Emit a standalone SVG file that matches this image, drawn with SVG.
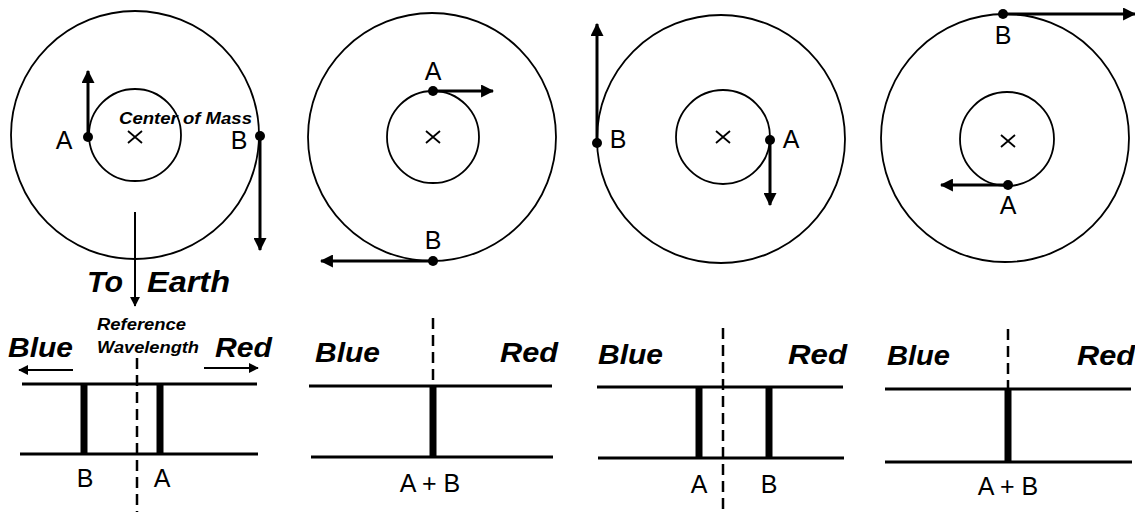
<svg xmlns="http://www.w3.org/2000/svg" width="1135" height="512" viewBox="0 0 1135 512">
<defs>
<marker id="ah" viewBox="0 0 12 12" markerUnits="userSpaceOnUse" markerWidth="13" markerHeight="13" refX="11" refY="6" orient="auto"><path d="M0,0 L12,6 L0,12 z" fill="#000"/></marker>
<marker id="ahs" viewBox="0 0 12 12" markerUnits="userSpaceOnUse" markerWidth="10" markerHeight="10" refX="11" refY="6" orient="auto"><path d="M0,0 L12,6 L0,12 z" fill="#000"/></marker>
<path id="xm" d="M-7,-6 L7,6 M-7,6 L7,-6" stroke="#000" stroke-width="1.8" fill="none"/>
<style>
.orb{fill:none;stroke:#000;stroke-width:1.8}
.vel{stroke:#000;stroke-width:3;fill:none;marker-end:url(#ah)}
.dot{fill:#000}
.lbl{font-family:"Liberation Sans","DejaVu Sans",sans-serif;font-size:25px;fill:#000;text-anchor:middle}
.big{font-family:"Liberation Sans",sans-serif;font-weight:bold;font-style:italic;font-size:29px;fill:#000}
.ital{font-family:"Liberation Sans",sans-serif;font-weight:bold;font-style:italic;fill:#000}
.spec{stroke:#000;stroke-width:3}
.bar{stroke:#000;stroke-width:7}
.dash{stroke:#000;stroke-width:2.5;stroke-dasharray:11 6}
.thin{stroke:#000;stroke-width:2;fill:none;marker-end:url(#ahs)}
</style>
</defs>
<rect width="1135" height="512" fill="#fff"/>

<g id="panel1">
<circle class="orb" cx="135" cy="135" r="124"/>
<circle class="orb" cx="135" cy="135" r="46"/>
<use href="#xm" x="135" y="137"/>
<circle class="dot" cx="88" cy="137" r="5"/>
<circle class="dot" cx="260" cy="136" r="5"/>
<text class="lbl" x="64" y="149">A</text>
<text class="lbl" x="239" y="149">B</text>
<text class="ital" x="119" y="124" font-size="17" textLength="133" lengthAdjust="spacingAndGlyphs">Center of Mass</text>
<text class="big" x="87" y="292" textLength="36" lengthAdjust="spacingAndGlyphs">To</text>
<text class="big" x="147" y="292" textLength="83" lengthAdjust="spacingAndGlyphs">Earth</text>
</g>

<g id="panel2">
<circle class="orb" cx="432" cy="137" r="124"/>
<circle class="orb" cx="433" cy="137" r="46"/>
<use href="#xm" x="433" y="137"/>
<circle class="dot" cx="433" cy="91" r="5"/>
<circle class="dot" cx="433" cy="261" r="5"/>
<text class="lbl" x="433" y="80">A</text>
<text class="lbl" x="433" y="249">B</text>
</g>

<g id="panel3">
<circle class="orb" cx="721" cy="139" r="124"/>
<circle class="orb" cx="723" cy="137" r="47"/>
<use href="#xm" x="723" y="137"/>
<circle class="dot" cx="770" cy="140" r="5"/>
<circle class="dot" cx="597" cy="143" r="5"/>
<text class="lbl" x="791" y="148">A</text>
<text class="lbl" x="618" y="148">B</text>
</g>

<g id="panel4">
<circle class="orb" cx="1005" cy="138" r="124"/>
<circle class="orb" cx="1007" cy="139" r="47"/>
<use href="#xm" x="1008" y="141"/>
<circle class="dot" cx="1008" cy="185" r="5"/>
<circle class="dot" cx="1003" cy="14" r="5"/>
<text class="lbl" x="1008" y="214">A</text>
<text class="lbl" x="1003" y="44">B</text>
</g>

<g id="spectrum1">
<text class="ital" x="8" y="357" font-size="28" textLength="65" lengthAdjust="spacingAndGlyphs">Blue</text>
<text class="ital" x="215" y="357" font-size="28" textLength="57" lengthAdjust="spacingAndGlyphs">Red</text>
<text class="ital" x="97" y="330" font-size="16" textLength="89" lengthAdjust="spacingAndGlyphs">Reference</text>
<text class="ital" x="97" y="353" font-size="16" textLength="102" lengthAdjust="spacingAndGlyphs">Wavelength</text>
<line class="spec" x1="22" y1="384" x2="257" y2="384"/>
<line class="spec" x1="20" y1="454" x2="258" y2="454"/>
<line class="bar" x1="84" y1="384" x2="84" y2="454"/>
<line class="bar" x1="160" y1="384" x2="160" y2="454"/>
<line class="dash" x1="137" y1="358" x2="137" y2="512"/>
<text class="lbl" x="85" y="487">B</text>
<text class="lbl" x="162" y="487">A</text>
</g>

<g id="spectrum2">
<text class="ital" x="315" y="362" font-size="28" textLength="65" lengthAdjust="spacingAndGlyphs">Blue</text>
<text class="ital" x="500" y="362" font-size="28" textLength="58" lengthAdjust="spacingAndGlyphs">Red</text>
<line class="spec" x1="309" y1="386" x2="552" y2="386"/>
<line class="spec" x1="311" y1="457" x2="553" y2="457"/>
<line class="bar" x1="433" y1="386" x2="433" y2="457"/>
<line class="dash" x1="433" y1="318" x2="433" y2="386"/>
<text class="lbl" x="430" y="492">A + B</text>
</g>

<g id="spectrum3">
<text class="ital" x="598" y="364" font-size="28" textLength="65" lengthAdjust="spacingAndGlyphs">Blue</text>
<text class="ital" x="788" y="364" font-size="28" textLength="59" lengthAdjust="spacingAndGlyphs">Red</text>
<line class="spec" x1="597" y1="387" x2="843" y2="387"/>
<line class="spec" x1="598" y1="458" x2="844" y2="458"/>
<line class="bar" x1="699" y1="387" x2="699" y2="458"/>
<line class="bar" x1="769" y1="387" x2="769" y2="458"/>
<line class="dash" x1="723" y1="328" x2="723" y2="512"/>
<text class="lbl" x="699" y="493">A</text>
<text class="lbl" x="769" y="493">B</text>
</g>

<g id="spectrum4">
<text class="ital" x="887" y="365" font-size="28" textLength="63" lengthAdjust="spacingAndGlyphs">Blue</text>
<text class="ital" x="1077" y="365" font-size="28" textLength="58" lengthAdjust="spacingAndGlyphs">Red</text>
<line class="spec" x1="885" y1="389" x2="1131" y2="389"/>
<line class="spec" x1="885" y1="462" x2="1132" y2="462"/>
<line class="bar" x1="1008" y1="389" x2="1008" y2="462"/>
<line class="dash" x1="1008" y1="329" x2="1008" y2="389"/>
<text class="lbl" x="1008" y="495">A + B</text>
</g>

<g id="connectors">
<line class="vel" x1="88" y1="137" x2="88" y2="71"/>
<line class="vel" x1="260" y1="136" x2="260" y2="250"/>
<line class="vel" x1="433" y1="91" x2="493" y2="91"/>
<line class="vel" x1="433" y1="261" x2="321" y2="261"/>
<line class="vel" x1="770" y1="140" x2="770" y2="205"/>
<line class="vel" x1="597" y1="143" x2="597" y2="24"/>
<line class="vel" x1="1008" y1="185" x2="941" y2="185"/>
<line class="vel" x1="1003" y1="14" x2="1135" y2="14"/>
<line class="thin" x1="135" y1="212" x2="135" y2="306" stroke-width="1.5"/>
<line class="thin" x1="73" y1="370" x2="19" y2="370"/>
<line class="thin" x1="204" y1="368" x2="258" y2="368"/>
</g>
</svg>
